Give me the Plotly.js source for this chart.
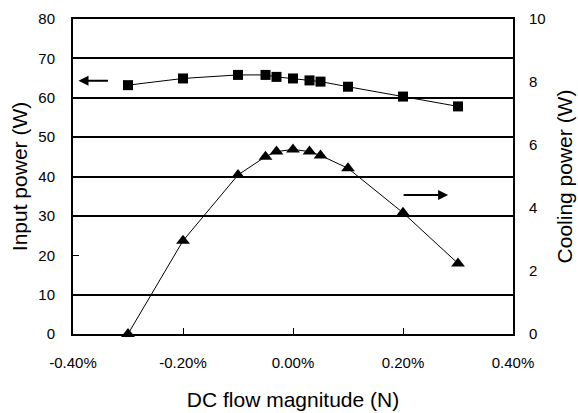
<!DOCTYPE html>
<html>
<head>
<meta charset="utf-8">
<script src="https://cdn.plot.ly/plotly-3.0.1.min.js"></script>
<style>html,body{margin:0;padding:0;background:#fff;}#chart{width:578px;height:413px;}</style>
</head>
<body>
<div id="chart"></div>
<script>
var flow = [-0.003, -0.002, -0.001, -0.0005, -0.0003, 0, 0.0003, 0.0005, 0.001, 0.002, 0.003];
var inputPower = [63.2, 64.9, 65.8, 65.8, 65.3, 64.9, 64.4, 64.1, 62.8, 60.3, 57.8];
var coolingPower = [0.0, 2.96, 5.05, 5.63, 5.79, 5.86, 5.79, 5.67, 5.26, 3.85, 2.24];
var xTickVals = [-0.004, -0.002, 0, 0.002, 0.004];
var xTickText = ["-0.40%", "-0.20%", "0.00%", "0.20%", "0.40%"];
var gridVals = [10, 30, 40, 50, 60, 70];

var font = "Liberation Sans, Arial, sans-serif";
var traces = [
  {x: [0], y: [0], yaxis: "y3", type: "scatter", mode: "markers",
   marker: {opacity: 0}, showlegend: false, hoverinfo: "skip"},
  {x: flow, y: inputPower, type: "scatter", mode: "lines+markers", yaxis: "y",
   line: {color: "#000", width: 1}, marker: {symbol: "square", size: 10, color: "#000"},
   cliponaxis: false, showlegend: false, hoverinfo: "skip"},
  {x: flow, y: coolingPower, type: "scatter", mode: "lines+markers", yaxis: "y2",
   line: {color: "#000", width: 1}, marker: {symbol: "triangle-up", size: 12, color: "#000"},
   cliponaxis: false, showlegend: false, hoverinfo: "skip"}
];
var layout = {
  width: 578, height: 413,
  margin: {l: 73, r: 65, t: 19, b: 79},
  paper_bgcolor: "#fff", plot_bgcolor: "#fff",
  font: {family: font, color: "#000", size: 14},
  showlegend: false,
  xaxis: {range: [-0.004, 0.004], tickvals: xTickVals, ticktext: xTickText,
    ticks: "inside", ticklen: 6, tickwidth: 1, tickcolor: "#000",
    showline: true, linecolor: "#000", linewidth: 2, mirror: true,
    showgrid: false, zeroline: false, tickfont: {size: 15}, ticklabelstandoff: 14,
    title: {text: "DC flow magnitude (N)", font: {size: 21}, standoff: 22}},
  yaxis: {range: [0, 80], dtick: 10, ticks: "inside", ticklen: 6, tickwidth: 1, tickcolor: "#000",
    showline: true, linecolor: "#000", linewidth: 2, showgrid: false, zeroline: false,
    tickfont: {size: 15}, ticklabelstandoff: 13,
    title: {text: "Input power (W)", font: {size: 21}, standoff: 5}},
  yaxis2: {range: [0, 10], dtick: 2, overlaying: "y", side: "right", ticks: "",
    showline: true, linecolor: "#000", linewidth: 2, showgrid: false, zeroline: false,
    tickfont: {size: 15}, ticklabelstandoff: 11,
    title: {text: "Cooling power (W)", font: {size: 21}, standoff: 13}},
  yaxis3: {range: [0, 80], overlaying: "y", tickvals: gridVals, showticklabels: false, ticks: "",
    showgrid: true, gridcolor: "#000", gridwidth: 2, zeroline: false, showline: false},
  annotations: [
    {xref: "x", yref: "y", x: -0.0039, y: 64.3, ax: 31, ay: 0, text: "",
     showarrow: true, arrowhead: 2, arrowsize: 1, arrowwidth: 2, arrowcolor: "#000"},
    {xref: "x", yref: "y2", x: 0.00282, y: 4.41, ax: -46, ay: 0, text: "",
     showarrow: true, arrowhead: 2, arrowsize: 1, arrowwidth: 2, arrowcolor: "#000"}
  ]
};
Plotly.newPlot("chart", traces, layout, {displayModeBar: false, staticPlot: true});
</script>
</body>
</html>
